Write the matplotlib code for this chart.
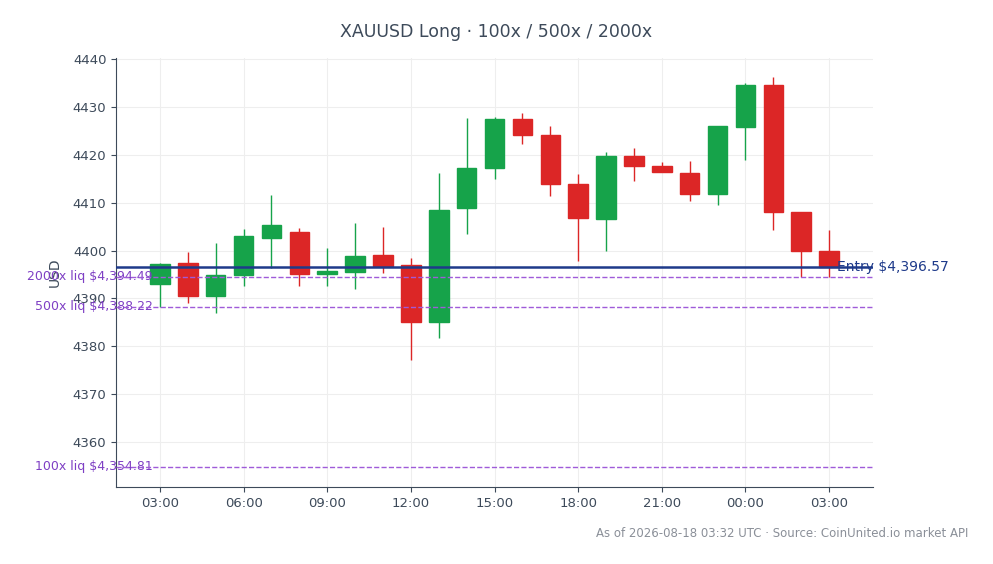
import matplotlib
matplotlib.use("Agg")
import matplotlib.pyplot as plt
import matplotlib.dates as mdates
import numpy as np
from datetime import datetime, timedelta

start = datetime(2026, 8, 17, 3, 0)
opens  = [4393.1,4397.3,4390.6,4394.8,4402.7,4403.8,4395.0,4395.6,4399.0,4396.9,4385.0,4408.8,4417.3,4427.5,4424.2,4413.8,4406.5,4419.8,4417.7,4416.3,4411.9,4425.8,4434.6,4408.1,4400.0]
closes = [4397.1,4390.6,4394.8,4403.1,4405.4,4395.2,4395.8,4398.8,4396.7,4385.0,4408.5,4417.3,4427.5,4424.2,4413.8,4406.9,4419.8,4417.7,4416.5,4411.9,4426.0,4434.6,4408.1,4400.0,4396.5]
highs  = [4397.5,4399.6,4401.5,4404.6,4411.7,4404.8,4400.6,4405.8,4405.0,4398.5,4416.3,4427.7,4427.9,4428.8,4426.0,4416.0,4420.6,4421.5,4418.5,4418.8,4426.0,4435.0,4436.3,4408.1,4404.2]
lows   = [4388.3,4389.0,4386.9,4392.5,4396.3,4392.5,4392.5,4391.9,4395.4,4377.1,4381.7,4403.5,4415.0,4422.3,4411.3,4397.9,4400.0,4414.6,4416.5,4410.4,4409.6,4419.0,4404.2,4394.4,4394.4]
entry = 4396.57
liq_labels = ["2000x", "500x", "100x"]
liq_values = [4394.49, 4388.22, 4354.81]

times = [start + timedelta(hours=i) for i in range(len(opens))]
x = mdates.date2num(times)
hw = 0.7/24/2

fig = plt.figure(figsize=(9.93, 5.64), dpi=100)
ax = fig.add_axes([0.117, 0.1365, 0.762, 0.7605])
green, red = "#16a34a", "#dc2626"
for xi, o, c, h, l in zip(x, opens, closes, highs, lows):
    col = green if c >= o else red
    ax.vlines(xi, l, h, color=col, lw=1, zorder=2)
    ax.add_patch(plt.Rectangle((xi-hw, min(o, c)), 2*hw, max(abs(c-o), 0.3), color=col, zorder=3))

ax.axhline(entry, color="#1e3a8a", lw=1.8, zorder=4)
ax.text(x[-1]+0.3/24, entry, f"Entry ${entry:,.2f}", color="#1e3a8a", fontsize=10, va="center", ha="left")
for lab, v in zip(liq_labels, liq_values):
    ax.axhline(v, color="#9f5bd9", lw=1, ls="--", zorder=4)
    ax.text(0.048, v, f"{lab} liq ${v:,.2f}", color="#7e3fc4", fontsize=9, va="center", ha="right",
            transform=ax.get_yaxis_transform())

ax.set_xlim(x[0]-1.57/24, x[-1]+1.57/24)
ax.set_ylim(4350.6, 4440.2)
ax.set_yticks(np.arange(4360, 4441, 10))
ax.xaxis.set_major_locator(mdates.HourLocator(byhour=range(0, 24, 3)))
ax.xaxis.set_major_formatter(mdates.DateFormatter("%H:%M"))
ax.grid(True, color="#eeeeee", lw=0.8, zorder=0)
ax.set_axisbelow(True)
for s in ["top", "right"]:
    ax.spines[s].set_visible(False)
for s in ["left", "bottom"]:
    ax.spines[s].set_color("#3d4a5a")
ax.tick_params(colors="#3d4a5a", labelsize=9.5)
ax.set_ylabel("USD", color="#3d4a5a", fontsize=10, labelpad=8)
fig.text(0.5, 0.935, "XAUUSD Long · 100x / 500x / 2000x", ha="center", fontsize=12.5, color="#3d4a5a")
fig.text(0.975, 0.047, "As of 2026-08-18 03:32 UTC · Source: CoinUnited.io market API", ha="right", fontsize=8.5, color="#8a8f98")
fig.savefig("out.png", dpi=100)
